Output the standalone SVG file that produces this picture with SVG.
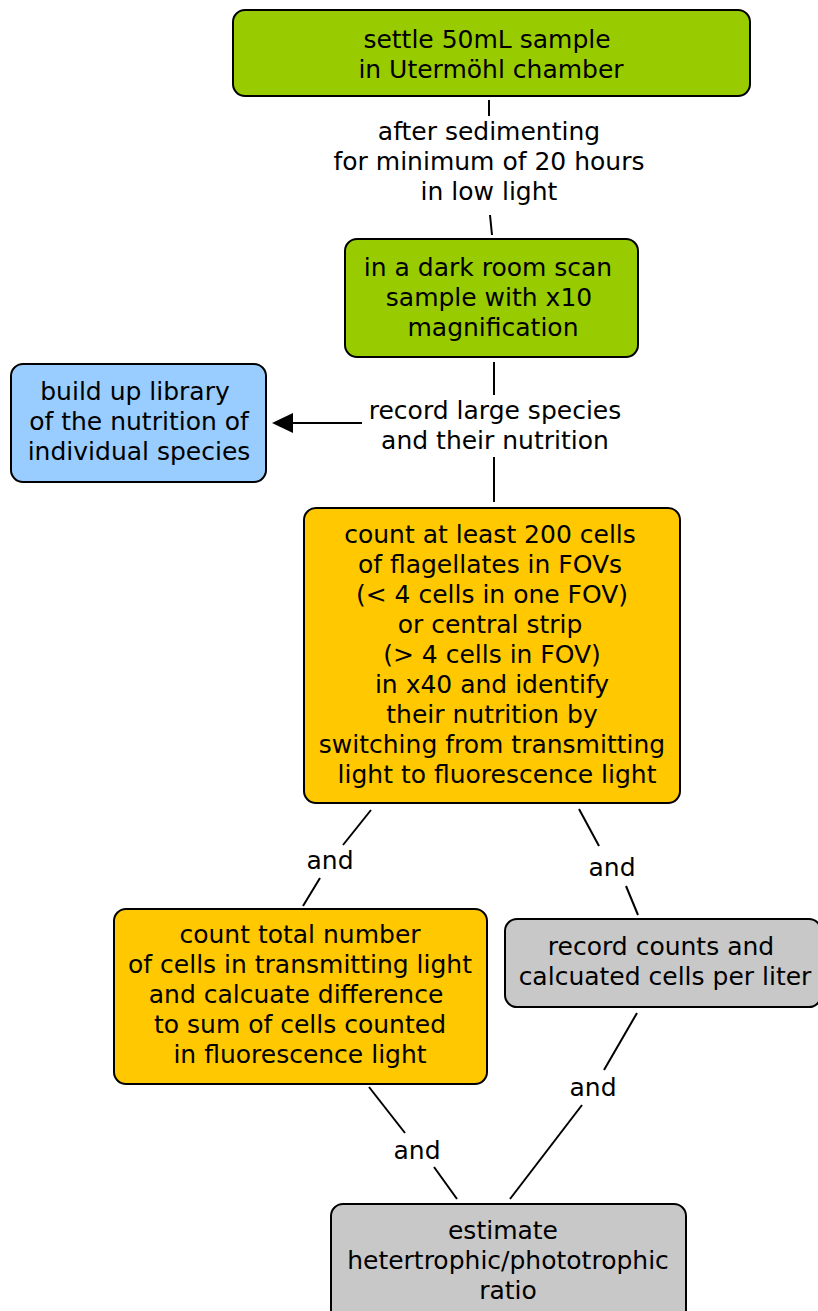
<svg xmlns="http://www.w3.org/2000/svg" width="818" height="1311" viewBox="0 0 818 1311">
<defs>
<style>
.n{stroke:#000;stroke-width:2}
.g{fill:#99cc00}.b{fill:#99ccff}.o{fill:#ffc800}.s{fill:#c8c8c8}
text{font-family:"DejaVu Sans",Verdana,sans-serif;font-size:25px;fill:#000;text-anchor:middle}
.c line{stroke:#000;stroke-width:2}
</style>
</defs>
<rect width="818" height="1311" fill="#fff"/>
<g class="c" id="connectors">
<line x1="489" y1="100" x2="489" y2="116"/>
<line x1="490" y1="215" x2="492" y2="235"/>
<text x="489" y="140">after sedimenting</text>
<text x="489" y="170">for minimum of 20 hours</text>
<text x="489" y="200">in low light</text>
<line x1="494" y1="362" x2="494" y2="395"/>
<line x1="494" y1="457" x2="494" y2="502"/>
<line x1="362" y1="423" x2="282" y2="423"/>
<path d="M272,423L293,413L293,433z" fill="#000"/>
<text x="495" y="419">record large species</text>
<text x="495" y="449">and their nutrition</text>
<line x1="371" y1="810" x2="343" y2="845"/>
<line x1="320" y1="878" x2="303" y2="906"/>
<text x="330" y="869">and</text>
<line x1="579" y1="809" x2="599" y2="846"/>
<line x1="626" y1="886" x2="638" y2="915"/>
<text x="612" y="876">and</text>
<line x1="369" y1="1087" x2="405" y2="1133"/>
<line x1="434" y1="1167" x2="457" y2="1199"/>
<text x="417" y="1159">and</text>
<line x1="637" y1="1013" x2="604" y2="1070"/>
<line x1="582" y1="1105" x2="510" y2="1199"/>
<text x="593" y="1096">and</text>
</g>
<g id="n1"><rect class="n g" x="233" y="10" width="517" height="86" rx="12"/>
<text x="487" y="48">settle 50mL sample</text><text x="491" y="78">in Utermöhl chamber</text></g>
<g id="n2"><rect class="n g" x="345" y="239" width="293" height="118" rx="12"/>
<text x="488" y="276">in a dark room scan</text><text x="489" y="306">sample with x10</text><text x="493" y="336">magnification</text></g>
<g id="n3"><rect class="n b" x="11" y="364" width="255" height="118" rx="12"/>
<text x="135" y="400">build up library</text><text x="139" y="430">of the nutrition of</text><text x="139" y="460">individual species</text></g>
<g id="n4"><rect class="n o" x="304" y="508" width="376" height="295" rx="12"/>
<text x="490" y="543">count at least 200 cells</text>
<text x="490" y="573">of flagellates in FOVs</text>
<text x="492" y="603">(&lt; 4 cells in one FOV)</text>
<text x="490" y="633">or central strip</text>
<text x="492" y="663">(&gt; 4 cells in FOV)</text>
<text x="492" y="693">in x40 and identify</text>
<text x="492" y="723">their nutrition by</text>
<text x="492" y="753">switching from transmitting</text>
<text x="497" y="783">light to fluorescence light</text></g>
<g id="n5"><rect class="n o" x="114" y="909" width="373" height="175" rx="12"/>
<text x="300" y="943">count total number</text>
<text x="300" y="973">of cells in transmitting light</text>
<text x="296" y="1003">and calcuate difference</text>
<text x="300" y="1033">to sum of cells counted</text>
<text x="300" y="1063">in fluorescence light</text></g>
<g id="n6"><rect class="n s" x="505" y="919" width="316" height="88" rx="12"/>
<text x="661" y="955">record counts and</text>
<text x="665" y="985">calcuated cells per liter</text></g>
<g id="n7"><rect class="n s" x="331" y="1204" width="355" height="120" rx="12"/>
<text x="503" y="1239">estimate</text>
<text x="508" y="1269">hetertrophic/phototrophic</text>
<text x="508" y="1299">ratio</text></g>
</svg>
